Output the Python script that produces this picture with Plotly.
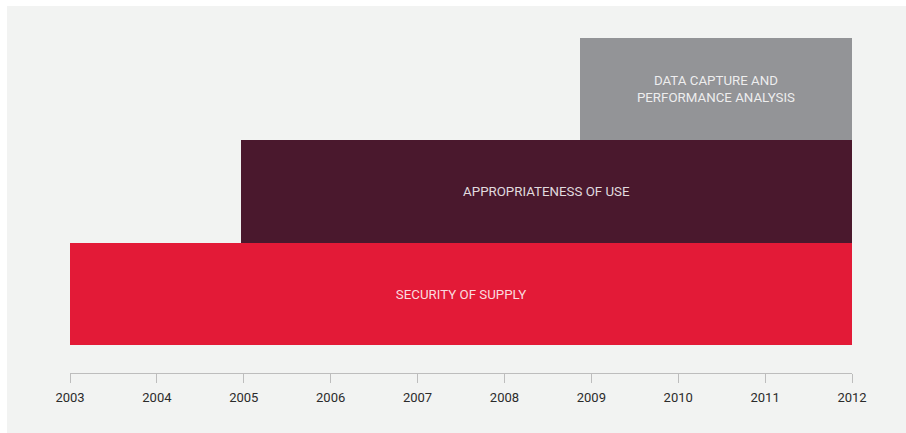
import plotly.graph_objects as go

# Programme timeline: each stream starts in a given year and runs to 2012
streams = ["SECURITY OF SUPPLY", "APPROPRIATENESS OF USE",
           "DATA CAPTURE AND<br>PERFORMANCE ANALYSIS"]
start_year = [2003.0, 2004.97, 2008.87]
end_year = [2012.0, 2012.0, 2012.0]
rows = [0, 1, 2]
colors = ["#e31a37", "#4a182d", "#939497"]
year_ticks = list(range(2003, 2013))

W, H = 906, 433
ml, mr, mt, mb = 70, 54, 38, 60
bg = "#f2f3f2"

fig = go.Figure()
fig.add_trace(go.Bar(
    y=rows,
    x=[e - s for s, e in zip(start_year, end_year)],
    base=start_year,
    orientation="h",
    width=1,
    marker=dict(color=colors, line=dict(width=0)),
    text=streams,
    textposition="inside",
    insidetextanchor="middle",
    textangle=0,
    constraintext="none",
    textfont=dict(family="Roboto", size=13.3, color="rgba(255,255,255,0.85)"),
    hoverinfo="skip",
))

pw = W - ml - mr
ph = H - mt - mb
# light panel behind the whole chart, leaving a thin white margin top-left
fig.add_shape(type="rect", xref="paper", yref="paper", layer="below",
              x0=(7 - ml) / pw, x1=(W - ml + 5) / pw,
              y0=-(mb + 5) / ph, y1=(H - mb - 6) / ph,
              fillcolor=bg, line=dict(width=0))

fig.update_layout(
    width=W, height=H,
    margin=dict(l=ml, r=mr, t=mt, b=mb, pad=0),
    paper_bgcolor="white",
    plot_bgcolor=bg,
    showlegend=False,
    bargap=0,
    font=dict(family="Roboto", size=13, color="#333333"),
    xaxis=dict(
        range=[2003, 2012],
        tickvals=year_ticks,
        ticktext=[str(y) for y in year_ticks],
        showgrid=False, zeroline=False,
        showline=True, linecolor="#bdbdbd", linewidth=1.2,
        ticks="outside", ticklen=9, tickwidth=1.2, tickcolor="#bdbdbd",
        ticklabelstandoff=3,
        tickfont=dict(family="Roboto", size=13, color="#2b2b2b"),
        fixedrange=True,
    ),
    yaxis=dict(
        range=[-0.774, 2.5],
        showgrid=False, zeroline=False, showline=False,
        showticklabels=False, ticks="",
        fixedrange=True,
    ),
)

fig.write_html("out.html")
